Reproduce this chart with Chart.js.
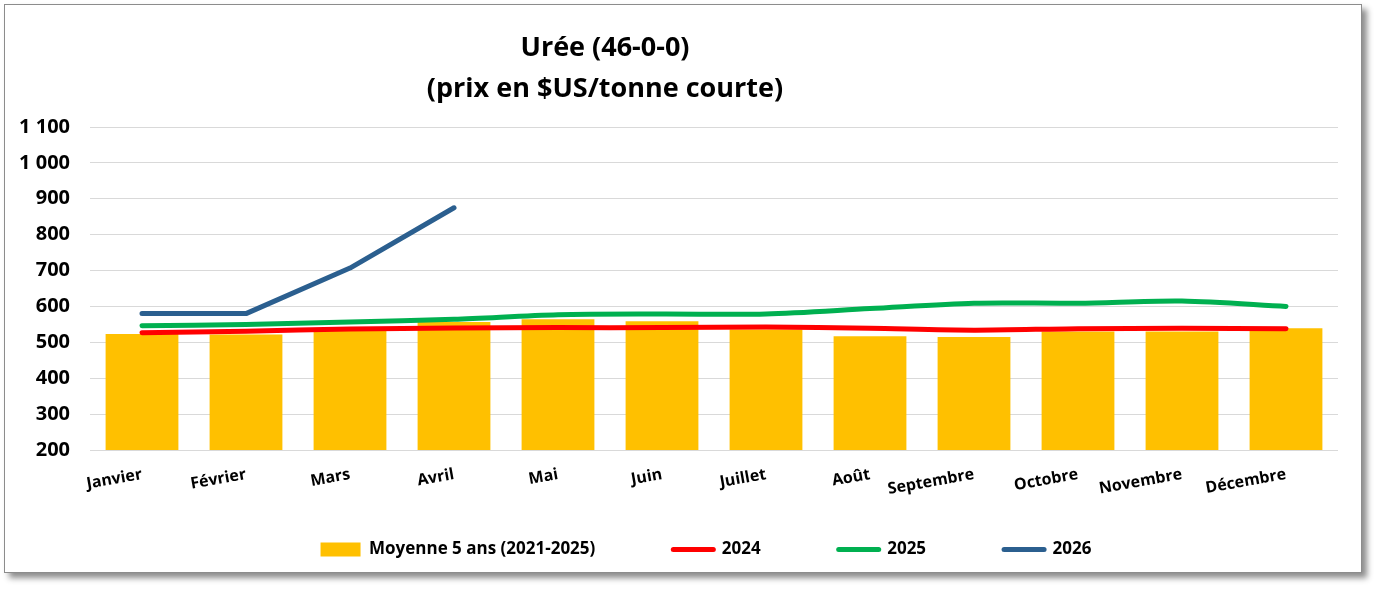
<!DOCTYPE html>
<html>
<head>
<meta charset="utf-8">
<script src="https://cdn.jsdelivr.net/npm/chart.js@4.4.0/dist/chart.umd.min.js"></script>
<style>
html, body { margin: 0; background: #fff; }
#frame { position: absolute; left: 4px; top: 4px; width: 1356px; height: 567px; border: 1px solid #8c8c8c; box-shadow: 5px 5px 6px rgba(0,0,0,.45); background: #fff; }
canvas { display: block; }
</style>
</head>
<body>
<div id="frame"><canvas id="c" width="1356" height="567" style="width:1356px;height:567px"></canvas></div>
<script>
const months = ['Janvier','Février','Mars','Avril','Mai','Juin','Juillet','Août','Septembre','Octobre','Novembre','Décembre'];
const avg5  = [523, 522, 534, 557, 564, 559, 536, 517, 515, 530, 530, 539];
const y2024 = [527, 531, 537, 540, 541, 541, 543, 539, 534, 538, 539, 538];
const y2025 = [546, 550, 557, 564, 577, 579, 579, 594, 609, 609, 615, 600];
const y2026 = [580, 580, 707, 875];
const seriesNames = ['Moyenne 5 ans (2021-2025)', '2024', '2025', '2026'];
const titleLines = ['Urée (46-0-0)', '(prix en $US/tonne courte)'];
const yMin = 200, yMax = 1100, yStep = 100;

const FONT = '"Open Sans", "DejaVu Sans", sans-serif';
const fmt = v => String(v).replace(/\B(?=(\d{3})+(?!\d))/g, ' ');

// title drawn left of centre, like the original
const titlePlugin = {
  id: 'titre',
  afterDraw(chart) {
    const ctx = chart.ctx;
    ctx.save();
    ctx.font = 'bold 27px ' + FONT;
    ctx.fillStyle = '#000';
    ctx.textAlign = 'center';
    ctx.textBaseline = 'middle';
    ctx.fillText(titleLines[0], 600, 43);
    ctx.fillText(titleLines[1], 600, 84);
    ctx.restore();
  }
};

// move the legend row to where it sits in the picture
const legendPos = {
  id: 'legendPos',
  afterLayout(chart) {
    const lg = chart.legend;
    const p = lg.options.labels.padding;
    const start = (lg.left + p + lg.right - lg.lineWidths[0]) / 2;
    const contentW = lg.lineWidths[0] - p;
    const dx = 701 - (start + contentW / 2);
    lg.left += dx; lg.right += dx;
    lg.top = 545 - 9 - p;
    lg.height = p + 40;
    lg.bottom = lg.top + lg.height;
  }
};

const line = (label, data, color, tension) => ({
  type: 'line', label, data,
  borderColor: color, backgroundColor: color,
  borderWidth: 5, borderCapStyle: 'round', borderJoinStyle: 'round',
  pointRadius: 0, tension, order: 1
});

new Chart(document.getElementById('c').getContext('2d'), {
  data: {
    labels: months,
    datasets: [
      { type: 'bar', label: seriesNames[0], data: avg5, backgroundColor: '#FFC000', borderWidth: 0,
        barPercentage: 0.7, categoryPercentage: 1, order: 2 },
      line(seriesNames[1], y2024, '#FF0000', 0.3),
      line(seriesNames[2], y2025, '#00B050', 0.3),
      line(seriesNames[3], y2026, '#2B5F8F', 0)
    ]
  },
  options: {
    responsive: false,
    animation: false,
    layout: { padding: { top: 122, left: 10, right: 23, bottom: 42 } },
    scales: {
      x: {
        grid: { display: false, drawTicks: false },
        border: { display: false },
        afterFit: s => { s.height = 60; },
        ticks: { color: '#000', minRotation: 10, maxRotation: 10, padding: 15,
          font: { family: FONT, size: 16, weight: 'bold' } }
      },
      y: {
        min: yMin, max: yMax,
        grid: { color: '#d9d9d9', drawTicks: false, lineWidth: 1 },
        border: { display: false },
        afterFit: s => { s.width = 75; },
        ticks: { stepSize: yStep, color: '#000', padding: 20, callback: v => fmt(v),
          font: { family: FONT, size: 20, weight: 'bold' } }
      }
    },
    plugins: {
      tooltip: { enabled: false },
      legend: {
        position: 'bottom',
        maxHeight: 20,
        labels: {
          usePointStyle: true, pointStyleWidth: 40, boxHeight: 14, padding: 78,
          color: '#000', font: { family: FONT, size: 17, weight: 'bold' },
          sort: (a, b) => a.datasetIndex - b.datasetIndex,
          generateLabels(chart) {
            const items = Chart.defaults.plugins.legend.labels.generateLabels(chart);
            items.forEach(it => {
              const ds = chart.data.datasets[it.datasetIndex];
              const isBar = ds.type === 'bar';
              it.pointStyle = isBar ? 'rect' : 'line';
              it.lineWidth = isBar ? 0 : 5;
              it.strokeStyle = ds.borderColor;
              it.fillStyle = ds.backgroundColor;
              it.lineCap = 'round';
            });
            return items;
          }
        }
      }
    }
  },
  plugins: [titlePlugin, legendPos]
});
</script>
</body>
</html>
